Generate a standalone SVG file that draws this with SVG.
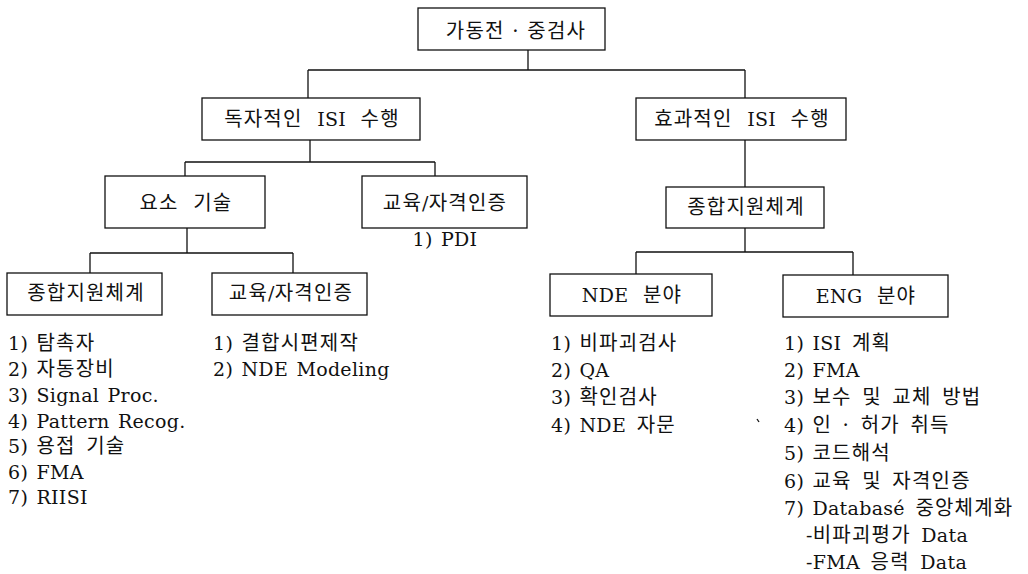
<svg xmlns="http://www.w3.org/2000/svg" width="1028" height="574" viewBox="0 0 1028 574">
<style>
.box{fill:#fff;stroke:#111;stroke-width:1.3}
.ln{stroke:#111;stroke-width:1.3;fill:none}
text{font-family:"DejaVu Serif","Noto Sans CJK KR",serif;font-size:20px;letter-spacing:1.2px;word-spacing:3px;fill:#111}
.l{font-size:19px;letter-spacing:0.3px;word-spacing:2px}
.b{word-spacing:7px}
.c{text-anchor:middle}
</style>
<rect width="1028" height="574" fill="#fff"/>
<g id="connectors">
<path class="ln" d="M528,50V70M308,70H745M308,70V98M745,70V98"/>
<path class="ln" d="M310,140V162M185,162H435M185,162V176M435,162V176"/>
<path class="ln" d="M187,228V253M90,253H293M90,253V273M293,253V273"/>
<path class="ln" d="M745,140V187M745,228V252M636,252H853M636,252V274M853,252V275"/>
</g>
<g id="root"><rect class="box" x="418" y="8" width="187" height="42"/><text class="c" x="516" y="38" style="word-spacing:0">가동전 · 중검사</text></g>
<g id="isi-own"><rect class="box" x="202" y="98" width="218" height="42"/><text class="c b" x="312" y="126">독자적인 <tspan class="l">ISI</tspan> 수행</text></g>
<g id="isi-eff"><rect class="box" x="636" y="98" width="210" height="42"/><text class="c b" x="742" y="126">효과적인 <tspan class="l">ISI</tspan> 수행</text></g>
<g id="element-tech"><rect class="box" x="105" y="176" width="160" height="52"/><text class="c b" x="186" y="210">요소 기술</text></g>
<g id="edu-cert-1"><rect class="box" x="362" y="176" width="165" height="52"/><text class="c" x="445" y="210">교육<tspan class="l">/</tspan>자격인증</text><text class="c" x="445" y="246"><tspan class="l">1) PDI</tspan></text></g>
<g id="support-left"><rect class="box" x="7" y="273" width="155" height="42"/><text class="c" x="86" y="300">종합지원체계</text>
<text x="8" y="350"><tspan class="l">1) </tspan>탐촉자</text>
<text x="8" y="376"><tspan class="l">2) </tspan>자동장비</text>
<text x="8" y="402"><tspan class="l">3) Signal Proc.</tspan></text>
<text x="8" y="428"><tspan class="l">4) Pattern Recog.</tspan></text>
<text x="8" y="453"><tspan class="l">5) </tspan>용접 기술</text>
<text x="8" y="479"><tspan class="l">6) FMA</tspan></text>
<text x="8" y="504"><tspan class="l">7) RIISI</tspan></text>
</g>
<g id="edu-cert-2"><rect class="box" x="212" y="273" width="155" height="42"/><text class="c" x="291" y="300">교육<tspan class="l">/</tspan>자격인증</text>
<text x="213" y="350"><tspan class="l">1) </tspan>결합시편제작</text>
<text x="213" y="376"><tspan class="l">2) NDE Modeling</tspan></text>
</g>
<g id="support-right"><rect class="box" x="666" y="187" width="158" height="41"/><text class="c" x="746" y="214">종합지원체계</text></g>
<g id="nde"><rect class="box" x="550" y="274" width="162" height="42"/><text class="c b" x="632" y="302"><tspan class="l">NDE</tspan> 분야</text>
<text x="551" y="350"><tspan class="l">1) </tspan>비파괴검사</text>
<text x="551" y="377"><tspan class="l">2) QA</tspan></text>
<text x="551" y="404"><tspan class="l">3) </tspan>확인검사</text>
<text x="551" y="432"><tspan class="l">4) NDE</tspan> 자문</text>
</g>
<g id="eng"><rect class="box" x="783" y="275" width="165" height="42"/><text class="c b" x="866" y="303"><tspan class="l">ENG</tspan> 분야</text>
<text x="784" y="350"><tspan class="l">1) ISI</tspan> 계획</text>
<text x="784" y="377"><tspan class="l">2) FMA</tspan></text>
<text x="784" y="404"><tspan class="l">3) </tspan>보수 및 교체 방법</text>
<text x="784" y="432"><tspan class="l">4) </tspan>인 · 허가 취득</text>
<text x="784" y="460"><tspan class="l">5) </tspan>코드해석</text>
<text x="784" y="488"><tspan class="l">6) </tspan>교육 및 자격인증</text>
<text x="784" y="515"><tspan class="l">7) Databasé</tspan> 중앙체계화</text>
<text x="806" y="542"><tspan class="l">-</tspan>비파괴평가 <tspan class="l">Data</tspan></text>
<text x="806" y="569"><tspan class="l">-FMA</tspan> 응력 <tspan class="l">Data</tspan></text>
</g>
<path class="ln" d="M757,419L759,422"/>
</svg>
